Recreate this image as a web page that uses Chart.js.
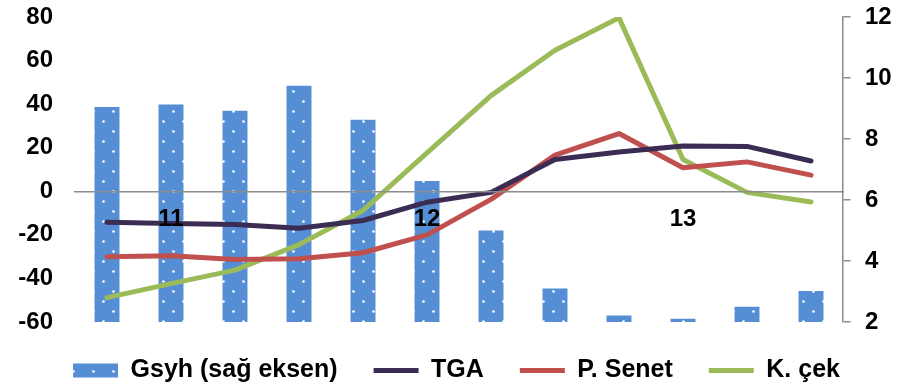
<!DOCTYPE html>
<html>
<head>
<meta charset="utf-8">
<script src="https://cdn.jsdelivr.net/npm/chart.js@4"></script>
<style>
  body { margin: 0; background: #fff; }
  #wrap { width: 905px; height: 384px; position: relative; }
</style>
</head>
<body>
<div id="wrap"><canvas id="myChart"></canvas></div>
<script>
// categories (only some are labelled on the axis)
const labels = ['', '11', '', '', '', '12', '', '', '', '13', '', '']

// Gsyh, right axis
const gsyh = [9.05, 9.13, 8.93, 9.75, 8.63, 6.62, 5.0, 3.1, 2.21, 2.11, 2.5, 3.02]
// left axis
const tga = [-14.2, -14.8, -15.2, -17, -13.4, -5, -0.5, 14.6, 18, 20.8, 20.6, 13.9]
const pSenet = [-30, -29.6, -31.3, -31, -28.2, -20, -3.7, 16.6, 26.5, 10.8, 13.5, 7.4]
const kCek = [-48.8, -42.4, -36.2, -24.5, -8.8, 17.6, 43.9, 64.7, 79.6, 14.6, -0.5, -4.9]

const leftTicks = [-60, -40, -20, 0, 20, 40, 60, 80]
const rightTicks = [2, 4, 6, 8, 10, 12]

const family = "'Liberation Sans', Arial, sans-serif"
const font = { family: family, size: 24, weight: 'bold' }
const legendFont = { family: family, size: 25, weight: 'bold' }

// blue fill with white dots
function dotPattern() {
    const c = document.createElement('canvas')
    c.width = 20
    c.height = 20
    const g = c.getContext('2d')
    g.fillStyle = '#558ED5'
    g.fillRect(0, 0, 20, 20)
    g.fillStyle = '#ffffff'
    const dots = [[13.5, 11.5], [3.5, 1.5]]
    dots.forEach(d => {
        g.beginPath()
        g.arc(d[0], d[1], 1.3, 0, Math.PI * 2)
        g.fill()
    })
    return g.createPattern(c, 'repeat')
}

function lineSet(label, data, color) {
    return {
        type: 'line',
        label: label,
        data: data,
        yAxisID: 'y',
        borderColor: color,
        backgroundColor: color,
        borderWidth: 5,
        borderCapStyle: 'round',
        borderJoinStyle: 'round',
        pointRadius: 0,
        pointStyle: 'line',
        tension: 0,
        order: 0
    }
}

const dataChart = {
    labels: labels,
    datasets: [
        {
            type: 'bar',
            label: 'Gsyh (sağ eksen)',
            data: gsyh,
            yAxisID: 'y2',
            backgroundColor: dotPattern(),
            borderWidth: 0,
            pointStyle: 'rect',
            barPercentage: 0.39,
            categoryPercentage: 1,
            order: 1
        },
        lineSet('TGA', tga, '#3B2C54'),
        lineSet('P. Senet', pSenet, '#C0504D'),
        lineSet('K. çek', kCek, '#9BBB59')
    ]
}

const config = {
    data: dataChart,
    options: {
        responsive: true,
        maintainAspectRatio: false,
        animation: false,
        layout: { padding: { top: 17, bottom: -9, left: 8, right: 0 } },
        plugins: {
            tooltip: { enabled: false },
            legend: {
                position: 'bottom',
                labels: {
                    usePointStyle: true,
                    pointStyleWidth: 45,
                    boxHeight: 14,
                    padding: 36,
                    color: '#000',
                    font: legendFont,
                    sort: (a, b) => a.datasetIndex - b.datasetIndex
                }
            }
        },
        scales: {
            x: {
                position: { y: 0 },
                grid: { display: false, drawTicks: false },
                border: { display: true, color: '#8C8C8C', width: 1.5, z: 1 },
                ticks: { color: '#000', font: font, autoSkip: false, maxRotation: 0, padding: 14, z: 2 }
            },
            y: {
                position: 'left',
                min: -60,
                max: 80,
                afterBuildTicks: s => { s.ticks = leftTicks.map(v => ({ value: v })) },
                afterFit: s => { s.width = 67 },
                grid: { display: false, drawTicks: true, tickLength: 22 },
                border: { display: false },
                ticks: { color: '#000', font: font, padding: 0 }
            },
            y2: {
                position: 'right',
                min: 2,
                max: 12,
                afterBuildTicks: s => { s.ticks = rightTicks.map(v => ({ value: v })) },
                afterFit: s => { s.width = 62 },
                grid: {
                    drawOnChartArea: false, color: '#8C8C8C', tickLength: 22, lineWidth: 1.5,
                    tickBorderDash: [7, 40]
                },
                border: { display: true, color: '#8C8C8C', width: 1.5 },
                ticks: { color: '#000', font: font, padding: 0 }
            }
        }
    }
}

const myChart = new Chart(document.getElementById('myChart'), config)
</script>
</body>
</html>
